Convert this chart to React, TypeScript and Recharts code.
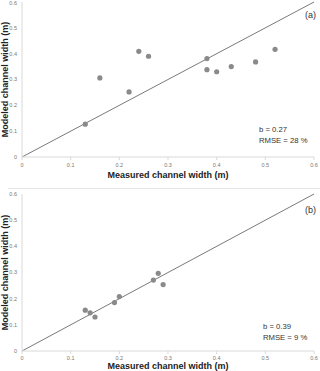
import React from "react";
import { ScatterChart, Scatter, XAxis, YAxis, ReferenceLine } from "recharts";

// Panel (a)
const measuredA = [0.13, 0.16, 0.22, 0.24, 0.26, 0.38, 0.38, 0.4, 0.43, 0.48, 0.52];
const modeledA = [0.127, 0.306, 0.252, 0.409, 0.39, 0.381, 0.338, 0.33, 0.35, 0.368, 0.417];
// Panel (b)
const measuredB = [0.13, 0.14, 0.15, 0.19, 0.2, 0.27, 0.28, 0.29];
const modeledB = [0.156, 0.146, 0.13, 0.185, 0.208, 0.271, 0.297, 0.254];

const ticks = [0, 0.1, 0.2, 0.3, 0.4, 0.5, 0.6];
const tickLabels = ["0", "0.1", "0.2", "0.3", "0.4", "0.5", "0.6"];
const oneToOne = [
  { x: 0, y: 0 },
  { x: 0.6, y: 0.6 },
];

const xTitle = "Measured channel width (m)";
const yTitle = "Modeled channel width (m)";
const statsA = ["b = 0.27", "RMSE = 28 %"];
const statsB = ["b = 0.39", "RMSE = 9 %"];

const FONT = "'Liberation Sans', Arial, sans-serif";

const toPoints = (xs: number[], ys: number[]) => xs.map((x, i) => ({ x, y: ys[i] }));

const dot = (p: any) => <circle cx={p.cx} cy={p.cy} r={2.6} fill="#8a8a8a" />;
const fmt = (v: number) => tickLabels[ticks.findIndex((t) => Math.abs(t - v) < 1e-9)] ?? String(v);

function Panel(props: {
  xs: number[];
  ys: number[];
  height: number;
  top: number;
  xAxisHeight: number;
  xTickMargin: number;
  titleOffset: number;
}) {
  const { xs, ys, height, top, xAxisHeight, xTickMargin, titleOffset } = props;
  return (
    <ScatterChart
      width={320}
      height={height}
      margin={{ top, right: 6, bottom: 0, left: 0 }}
      style={{ fontFamily: FONT }}
    >
      <XAxis
        type="number"
        dataKey="x"
        domain={[0, 0.6]}
        ticks={ticks}
        tickFormatter={fmt}
        height={xAxisHeight}
        tickSize={3}
        tickMargin={xTickMargin}
        stroke="#d9d9d9"
        tick={{ fontSize: 5.5, fill: "#777", fontFamily: FONT }}
        tickLine={{ stroke: "#d9d9d9" }}
        label={{
          value: xTitle,
          position: "insideBottom",
          offset: titleOffset,
          style: { fontSize: 9, fontWeight: "bold", fill: "#222", fontFamily: FONT },
        }}
      />
      <YAxis
        type="number"
        dataKey="y"
        domain={[0, 0.6]}
        ticks={ticks}
        tickFormatter={fmt}
        width={22}
        tickSize={3}
        tickMargin={2}
        stroke="#d9d9d9"
        tickLine={false}
        tick={{ fontSize: 5.5, fill: "#777", fontFamily: FONT }}
        label={{
          value: yTitle,
          angle: -90,
          position: "insideLeft",
          offset: 5,
          style: { fontSize: 9, fontWeight: "bold", fill: "#222", textAnchor: "middle", fontFamily: FONT },
        }}
      />
      <ReferenceLine segment={oneToOne} stroke="#7a7a7a" strokeWidth={1} ifOverflow="visible" />
      <Scatter data={toPoints(xs, ys)} shape={dot} isAnimationActive={false} />
    </ScatterChart>
  );
}

const textStyle: React.CSSProperties = {
  position: "absolute",
  fontFamily: FONT,
  color: "#333",
  whiteSpace: "nowrap",
};

export default function App() {
  return (
    <div style={{ position: "absolute", left: 0, top: 0, width: 320, height: 371, background: "#fff" }}>
      <div style={{ position: "absolute", left: 0, top: 0 }}>
        <Panel xs={measuredA} ys={modeledA} height={185} top={2} xAxisHeight={28} xTickMargin={3} titleOffset={7.5} />
      </div>
      <div style={{ position: "absolute", left: 8, top: 188, width: 312, height: 1, background: "#e6e6e6" }} />
      <div style={{ position: "absolute", left: 0, top: 185 }}>
        <Panel xs={measuredB} ys={modeledB} height={186} top={9} xAxisHeight={20} xTickMargin={2} titleOffset={2} />
      </div>
      <div style={{ ...textStyle, right: 4, top: 9, fontSize: 9, lineHeight: "12px" }}>(a)</div>
      <div style={{ ...textStyle, left: 259, top: 125, fontSize: 7.7, lineHeight: "10.7px" }}>
        {statsA.map((s) => (
          <div key={s}>{s}</div>
        ))}
      </div>
      <div style={{ ...textStyle, right: 4, top: 204, fontSize: 9, lineHeight: "12px" }}>(b)</div>
      <div style={{ ...textStyle, left: 263, top: 322, fontSize: 7.7, lineHeight: "10.7px" }}>
        {statsB.map((s) => (
          <div key={s}>{s}</div>
        ))}
      </div>
    </div>
  );
}
